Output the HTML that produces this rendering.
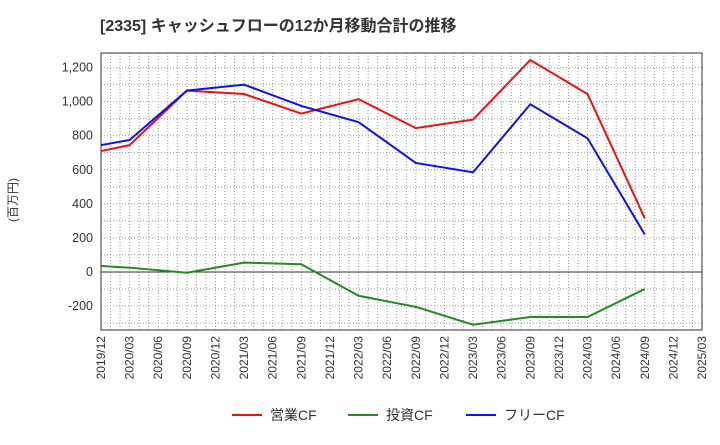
<!DOCTYPE html>
<html><head><meta charset="utf-8"><style>
body{margin:0;background:#fff;font-family:"Liberation Sans","Noto Sans CJK JP",sans-serif;}
</style></head><body>
<svg width="720" height="440" xmlns="http://www.w3.org/2000/svg">
<text x="100" y="31" font-size="16" font-weight="bold" fill="#333">[2335]  キャッシュフローの12か月移動合計の推移</text>
<text transform="translate(17,200) rotate(-90)" font-size="12" fill="#333" text-anchor="middle">(百万円)</text>
<g id="grid"></g><g id="axes"></g><g id="series"></g>
<g id="legend"></g>
</svg>
<script>
const categories=["2019/12","2020/03","2020/06","2020/09","2020/12","2021/03","2021/06","2021/09","2021/12","2022/03","2022/06","2022/09","2022/12","2023/03","2023/06","2023/09","2023/12","2024/03","2024/06","2024/09","2024/12","2025/03"];
const yTicks=[-200,0,200,400,600,800,1000,1200];
const opIdx=[0,1,3,5,7,9,11,13,15,17,19];
const opCF=[710,745,1065,1045,930,1015,845,895,1245,1045,315];
const invIdx=[0,1,3,5,7,9,11,13,15,17,19];
const invCF=[35,25,-5,55,45,-140,-205,-310,-265,-265,-100];
const freeIdx=[0,1,3,5,7,9,11,13,15,17,19];
const freeCF=[745,775,1065,1100,975,880,640,585,985,785,220];
const NS="http://www.w3.org/2000/svg";
const L=101,R=702,T=53,B=330,yMin=-341,yMax=1286;
const x=i=>L+(R-L)*i/(categories.length-1);
const y=v=>B-(v-yMin)/(yMax-yMin)*(B-T);
function mk(t,a,p){const e=document.createElementNS(NS,t);for(const k in a)e.setAttribute(k,a[k]);p.appendChild(e);return e;}
const grid=document.getElementById('grid'),axes=document.getElementById('axes'),ser=document.getElementById('series'),leg=document.getElementById('legend');
for(let m=0;m<=63;m++){const xx=L+(R-L)*m/63;const g=mk('line',{x1:xx,x2:xx,y1:T,y2:B,stroke:'#999','stroke-dasharray':'1,2','stroke-width':1},grid);}
for(let v=-300;v<=1200;v+=100){const g=mk('line',{x1:L,x2:R,y1:y(v),y2:y(v),stroke:'#999','stroke-dasharray':'1,2','stroke-width':1},grid);}
const z=mk('line',{x1:L,x2:R,y1:y(0),y2:y(0),stroke:'#333','stroke-width':1},axes);
const fr=mk('rect',{x:L,y:T,width:R-L,height:B-T,fill:'none',stroke:'#333','stroke-width':1},axes);
yTicks.forEach(v=>{const t=mk('text',{x:L-8,y:y(v)+4,'font-size':12.5,fill:'#333','text-anchor':'end'},axes);t.textContent=v.toLocaleString('en-US');});
categories.forEach((c,i)=>{const t=mk('text',{transform:`translate(${x(i)+4},${B+6}) rotate(-90)`,'font-size':12,fill:'#333','text-anchor':'end'},axes);t.textContent=c;});
function line(idx,vals,col,name){const p=mk('polyline',{points:idx.map((k,j)=>x(k)+','+y(vals[j])).join(' '),fill:'none',stroke:col,'stroke-width':2},ser);}
line(invIdx,invCF,'#228B22','investing-cf-line');
line(opIdx,opCF,'#ee1111','operating-cf-line');
line(freeIdx,freeCF,'#1111ee','free-cf-line');
[["営業CF","#ee1111",232],["投資CF","#228B22",348],["フリーCF","#1111ee",466]].forEach(([n,c,lx])=>{
const g=mk('g',{},leg);
mk('line',{x1:lx,x2:lx+30,y1:415,y2:415,stroke:c,'stroke-width':2},g);
const t=mk('text',{x:lx+38,y:420,'font-size':14,fill:'#333'},g);t.textContent=n;});
</script>
</body></html>
